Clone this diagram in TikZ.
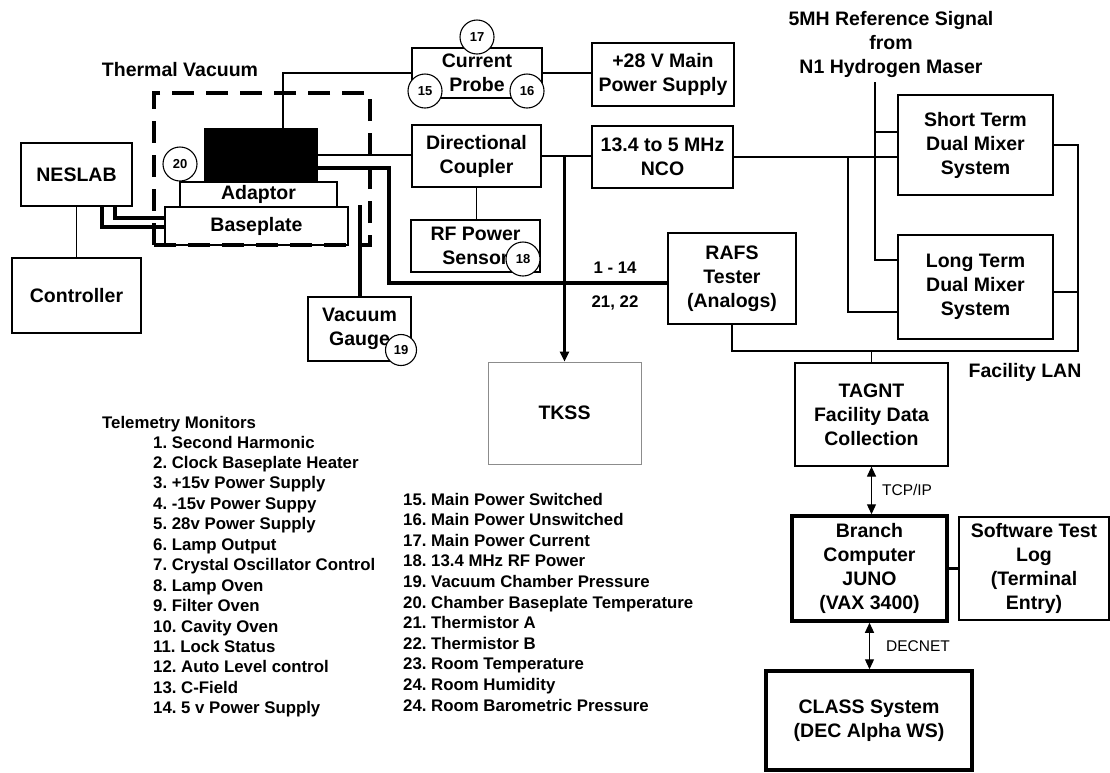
\documentclass[tikz,border=0pt]{standalone}
\usepackage{fontspec}
\setmainfont{Liberation Sans}
\usetikzlibrary{positioning,arrows.meta}
\frenchspacing
\newcommand{\boxfont}{\fontsize{19.5}{24}\selectfont\bfseries}
\newcommand{\listfont}{\fontsize{16.8}{20}\selectfont\bfseries}
\newcommand{\tagfont}{\fontsize{13}{14}\selectfont\bfseries}
\newcommand{\netfont}{\fontsize{15.5}{18}\selectfont}

\begin{document}
\begin{tikzpicture}[x=1pt,y=-1pt,
  box/.style={draw, line width=1.2pt, align=center, inner sep=0pt, font=\boxfont},
  boldbox/.style={box, line width=3.5pt},
  chamber/.style={draw, line width=3.5pt, dash pattern=on 22pt off 12pt, inner sep=0pt},
  tag/.style={circle, draw, line width=1.1pt, fill=white, minimum size=34pt, inner sep=0pt, font=\tagfont},
  hdr/.style={font=\boxfont, align=center},
  listtxt/.style={font=\listfont, inner sep=0pt},
  netlbl/.style={font=\netfont, inner sep=0pt},
  link/.style={line width=1.2pt},
  bus/.style={line width=3.5pt},
  arr/.style={-{Triangle[length=10pt,width=9pt]}},
  biarr/.style={{Triangle[length=10pt,width=9pt]}-{Triangle[length=10pt,width=9pt]}}]
\useasboundingbox (0,0) rectangle (1110,772);

\node[chamber, minimum width=216pt, minimum height=152pt] (tvac) at (262,169) {};
\node[hdr] (tvaclbl) at (180,70) {Thermal Vacuum};

\node[box, minimum width=111pt, minimum height=63pt] (neslab) at (76.5,174.5) {NESLAB};
\node[box, minimum width=129pt, minimum height=75pt] (controller) at (76.5,295.5) {Controller};
\node[draw, fill=black, minimum width=113pt, minimum height=54pt, inner sep=0pt] (rafsunit) at (260.5,155) {};
\node[box, minimum width=157pt, minimum height=25pt] (adaptor) at (258.5,194.5) {Adaptor};
\node[box, minimum width=183pt, minimum height=38pt] (baseplate) at (256.5,226) {Baseplate};
\node[box, minimum width=103pt, minimum height=64pt] (gauge) at (359.5,329) {Vacuum\\Gauge};

\node[box, minimum width=130pt, minimum height=50pt] (probe) at (477,73) {Current\\Probe};
\node[box, minimum width=142pt, minimum height=63pt] (mainps) at (663,74.5) {+28 V Main\\Power Supply};
\node[box, minimum width=129pt, minimum height=62pt] (coupler) at (476.5,156) {Directional\\Coupler};
\node[box, minimum width=141pt, minimum height=62pt] (nco) at (662.5,157) {13.4 to 5 MHz\\NCO};
\node[box, minimum width=129pt, minimum height=52pt] (rfsensor) at (475.5,246) {RF Power\\Sensor};
\node[box, draw=black!45, line width=0.7pt, minimum width=153pt, minimum height=102pt] (tkss) at (564.5,413) {TKSS};
\node[box, minimum width=128pt, minimum height=91pt] (rafs) at (732,278.5) {RAFS\\Tester\\(Analogs)};

\node[hdr] (maserlbl) at (891,44) {5MH Reference Signal\\from\\N1 Hydrogen Maser};
\node[box, minimum width=155pt, minimum height=100pt] (shortterm) at (975.5,145) {Short Term\\Dual Mixer\\System};
\node[box, minimum width=155pt, minimum height=104pt] (longterm) at (975.5,287) {Long Term\\Dual Mixer\\System};

\node[box, minimum width=153pt, minimum height=103pt] (tagnt) at (871.5,414.5) {TAGNT\\Facility Data\\Collection};
\node[hdr] (lanlbl) at (1025,372) {Facility LAN};
\node[boldbox, minimum width=155pt, minimum height=105pt] (branch) at (869.5,568.5) {Branch\\Computer\\JUNO\\(VAX 3400)};
\node[box, minimum width=150pt, minimum height=103pt] (swlog) at (1034,568.5) {Software Test\\Log\\(Terminal\\Entry)};
\node[boldbox, minimum width=206pt, minimum height=99pt] (classsys) at (869,720.5) {CLASS System\\(DEC Alpha WS)};

\node[listtxt] (ch1) at (615,268) {1 - 14};
\node[listtxt] (ch2) at (615,303) {21, 22};

\coordinate (trunk) at (389,283);
\coordinate (gtop) at (360,205);
\coordinate (ncotap) at (848,157);
\coordinate (maser) at (875,82);
\coordinate (lanr) at (1078,351);
\coordinate (stin) at ([yshift=13pt]shortterm.west);
\coordinate (ltin) at ([yshift=27pt]longterm.west);
\coordinate (ltnco) at ([yshift=-25pt]longterm.west);
\coordinate (ltout) at ([yshift=-5pt]longterm.east);

\draw[link] (neslab) -- (controller);
\draw[bus] ([xshift=25.5pt]neslab.south) |- ([yshift=-1pt]baseplate.west);
\draw[bus] ([xshift=38.5pt]neslab.south) |- ([yshift=8pt]baseplate.west);
\draw[link] ([xshift=22.5pt]rafsunit.north) |- (probe.west);
\draw[link] (rafsunit.east) -- (rafsunit.east -| coupler.west);
\draw[bus] ([yshift=-13pt]rafsunit.east) -| (trunk) -- (trunk -| rafs.west);
\draw[bus] (gtop) -- (gtop |- gauge.north);
\draw[link] (probe.east) -- (probe.east -| mainps.west);
\draw[link] (coupler.east) -- (coupler.east -| nco.west);
\draw[link] (coupler.south) -- (coupler.south |- rfsensor.north);
\draw[bus, arr] (tkss.north |- coupler.east) -- (tkss.north);
\draw[link] (nco.east) -- (nco.east -| shortterm.west);
\draw[link] (ncotap) |- (ltnco);
\draw[link] (maser) |- (ltin);
\draw[link] (stin -| maser) -- (stin);
\draw[link] (shortterm.east) -| (lanr) -| (rafs.south);
\draw[link] (ltout) -- (ltout -| lanr);
\draw[link] (tagnt.north) -- (tagnt.north |- lanr);
\draw[link, biarr] (tagnt.south) -- (tagnt.south |- branch.north)
  node[midway, right=10pt, netlbl] {TCP/IP};
\draw[bus] (branch.east) -- (swlog.west);
\draw[link, biarr] (branch.south) -- (branch.south |- classsys.north)
  node[midway, right=16pt, netlbl] {DECNET};

\node[tag] (t17) at (477,37) {17};
\node[tag] (t15) at (425,91) {15};
\node[tag] (t16) at (527,91) {16};
\node[tag] (t18) at (523,259) {18};
\node[tag, minimum size=31pt] (t19) at (401,350) {19};
\node[tag] (t20) at (180,164) {20};

\node[listtxt, anchor=base west] (telhead) at (102,428) {Telemetry Monitors};
\foreach \mon [count=\i] in {1. Second Harmonic, 2. Clock Baseplate Heater,
  3. +15v Power Supply, 4. -15v Power Suppy, 5. 28v Power Supply,
  6. Lamp Output, 7. Crystal Oscillator Control, 8. Lamp Oven,
  9. Filter Oven, 10. Cavity Oven, 11. Lock Status,
  12. Auto Level control, 13. C-Field, 14. 5 v Power Supply}
  \node[listtxt, anchor=base west] (tm\i) at (153,{448+20.45*(\i-1)}) {\mon};
\foreach \mon [count=\i] in {15. Main Power Switched, 16. Main Power Unswitched,
  17. Main Power Current, 18. 13.4 MHz RF Power, 19. Vacuum Chamber Pressure,
  20. Chamber Baseplate Temperature, 21. Thermistor A, 22. Thermistor B,
  23. Room Temperature, 24. Room Humidity, 24. Room Barometric Pressure}
  \node[listtxt, anchor=base west] (tr\i) at (403,{505+20.6*(\i-1)}) {\mon};
\end{tikzpicture}
\end{document}
